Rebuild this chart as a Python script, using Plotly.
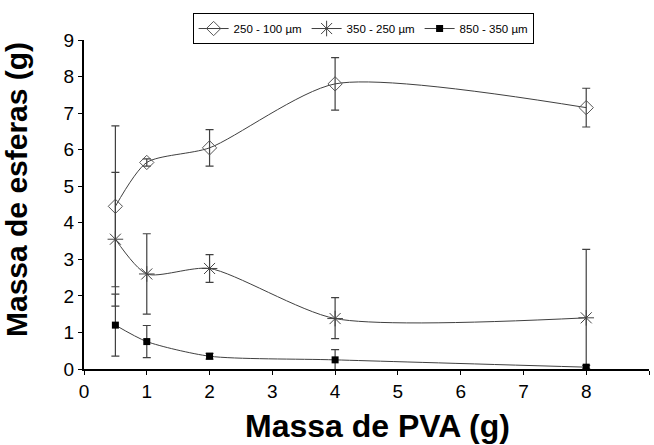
import plotly.graph_objects as go

x_pva = [0.5, 1, 2, 4, 8]

s1_name = "250 - 100 µm"
s1_y = [4.45, 5.65, 6.05, 7.8, 7.15]
s1_err = [2.2, 0.1, 0.5, 0.72, 0.53]

s2_name = "350 - 250 µm"
s2_y = [3.55, 2.6, 2.75, 1.38, 1.4]
s2_err = [1.83, 1.1, 0.38, 0.57, 1.87]
s2_errminus = [1.83, 1.1, 0.38, 0.55, 1.4]

s3_name = "850 - 350 µm"
s3_y = [1.2, 0.75, 0.35, 0.25, 0.05]
s3_err = [0.85, 0.44, 0.08, 0.28, 0.05]

x_title = "Massa de PVA (g)"
y_title = "Massa de esferas (g)"

line_col = "#404040"

fig = go.Figure()

fig.add_trace(go.Scatter(
    x=x_pva, y=s1_y, name=s1_name, mode="lines+markers",
    line=dict(color=line_col, width=1, shape="spline", smoothing=0.7),
    marker=dict(symbol="diamond-open", size=11, color="#555555", line=dict(width=1)),
    error_y=dict(type="data", array=s1_err, color=line_col, thickness=1.2, width=4),
))
fig.add_trace(go.Scatter(
    x=x_pva, y=s2_y, name=s2_name, mode="lines+markers",
    line=dict(color=line_col, width=1, shape="spline", smoothing=0.7),
    marker=dict(symbol="asterisk-open", size=13, color="#444444", line=dict(width=1, color="#444444")),
    error_y=dict(type="data", symmetric=False, array=s2_err, arrayminus=s2_errminus,
                 color=line_col, thickness=1.2, width=4),
))
fig.add_trace(go.Scatter(
    x=x_pva, y=s3_y, name=s3_name, mode="lines+markers",
    line=dict(color=line_col, width=1, shape="spline", smoothing=0.7),
    marker=dict(symbol="square", size=7, color="black"),
    error_y=dict(type="data", array=s3_err, color=line_col, thickness=1.2, width=4),
))

fig.add_annotation(text="<b>" + x_title + "</b>", xref="paper", yref="paper",
                   x=0.519, y=0, xanchor="center", yanchor="top", yshift=-37,
                   showarrow=False, font=dict(size=32))
fig.add_annotation(text="<b>" + y_title + "</b>", xref="paper", yref="paper",
                   x=0, y=0.544, xanchor="center", yanchor="middle", xshift=-68,
                   textangle=-90, showarrow=False, font=dict(size=30))

fig.update_layout(
    width=654, height=445,
    margin=dict(l=84, r=5, t=40, b=76, autoexpand=False),
    paper_bgcolor="white", plot_bgcolor="white",
    font=dict(family="Liberation Sans, Arial, sans-serif", color="black"),
    showlegend=True,
    legend=dict(orientation="h", x=0.494, xanchor="center", y=1.082, yanchor="top",
                bordercolor="black", borderwidth=1, bgcolor="white",
                font=dict(size=11.5, family="Liberation Sans, Arial"),
                itemwidth=30, tracegroupgap=0),
    xaxis=dict(range=[0, 9], dtick=1, showline=True, linecolor="black", linewidth=2,
               ticks="outside", ticklen=4, tickcolor="black", showgrid=False, zeroline=False,
               automargin=False, tickfont=dict(size=19)),
    yaxis=dict(range=[0, 9], dtick=1, showline=True, linecolor="black", linewidth=2,
               ticks="outside", ticklen=4, tickcolor="black", showgrid=False, zeroline=False,
               automargin=False, tickfont=dict(size=19)),
)

fig.write_html("out.html", post_script="document.body.style.margin='0';",
               config={"displayModeBar": False})
